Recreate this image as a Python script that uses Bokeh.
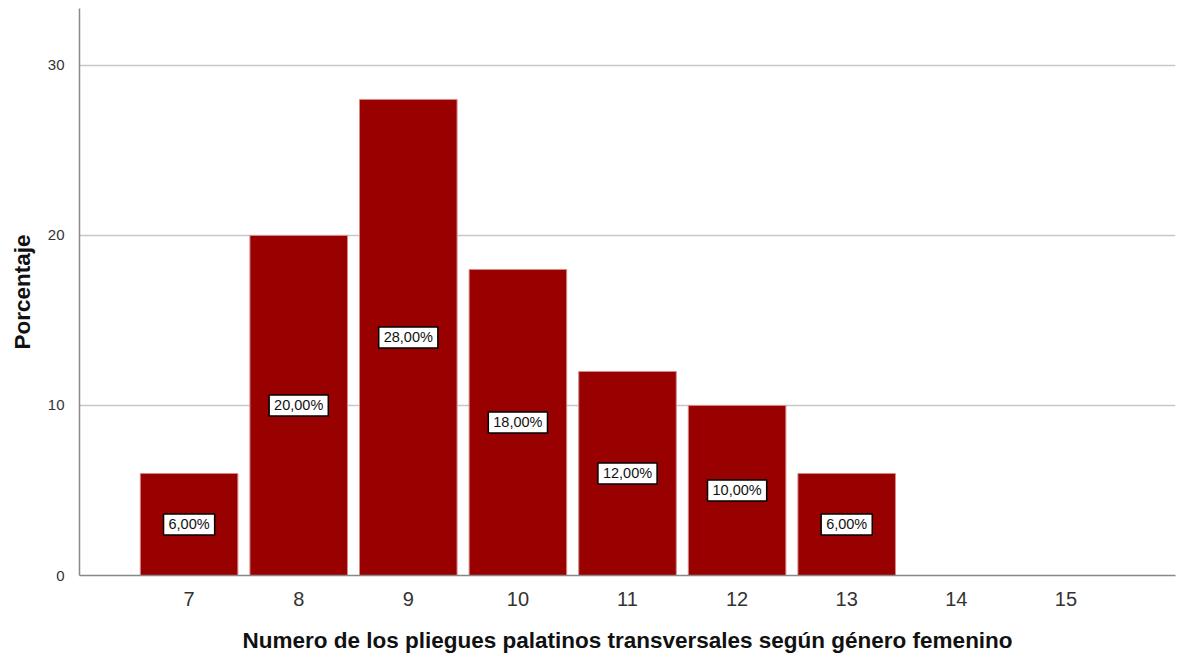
from bokeh.plotting import figure
from bokeh.models import ColumnDataSource, LabelSet, FixedTicker, Range1d
from bokeh.core.properties import value
from bokeh.embed import file_html
from bokeh.resources import INLINE

categories = [7, 8, 9, 10, 11, 12, 13, 14, 15]
values = [6, 20, 28, 18, 12, 10, 6, 0, 0]
y_ticks = [0, 10, 20, 30]

lab_x = [c for c, v in zip(categories, values) if v > 0]
lab_v = [v for v in values if v > 0]
lab_y = [v / 2 for v in lab_v]
lab_t = [f"{v:.2f}".replace(".", ",") + "%" for v in lab_v]

# approximate text widths (Liberation Sans em widths) for label boxes
FS = 14.5
def text_w(s):
    w = 0.0
    for ch in s:
        if ch.isdigit():
            w += 0.556
        elif ch == ",":
            w += 0.278
        elif ch == "%":
            w += 0.889
        else:
            w += 0.5
    return w * FS
box_w = [text_w(t) + 10 for t in lab_t]

src = ColumnDataSource(dict(x=lab_x, top=lab_v))
lsrc = ColumnDataSource(dict(x=lab_x, y=lab_y, t=lab_t, w=box_w))

p = figure(width=1184, height=660, output_backend="svg", toolbar_location=None,
           x_range=Range1d(6, 16), y_range=Range1d(0, 33.35),
           min_border_left=79, min_border_right=9, min_border_top=8, min_border_bottom=85)
p.outline_line_color = None
p.background_fill_color = "white"

p.vbar(x="x", top="top", width=0.89, source=src, fill_color="#990000",
       line_color="#d48a8a", line_width=1)

p.rect(x="x", y="y", width="w", height=21, width_units="screen", height_units="screen",
       source=lsrc, fill_color="white", line_color="black", line_width=1.5)

labels = LabelSet(x="x", y="y", text="t", source=lsrc, text_align="center",
                  text_baseline="middle", text_font=value("Liberation Sans"),
                  text_font_size=value(f"{FS}px"), text_color="#111111")
p.add_layout(labels)

p.xgrid.grid_line_color = None
p.ygrid.grid_line_color = "#c8c8c8"
p.ygrid.grid_line_width = 1.5
p.ygrid.ticker = FixedTicker(ticks=y_ticks)

p.xaxis.ticker = FixedTicker(ticks=categories)
p.yaxis.ticker = FixedTicker(ticks=y_ticks)

for ax in (p.xaxis, p.yaxis):
    ax.axis_line_color = "#888888"
    ax.axis_line_width = 1.5
    ax.major_tick_line_color = None
    ax.minor_tick_line_color = None
    ax.major_label_text_font = "Liberation Sans"
    ax.major_label_text_color = "#333333"
    ax.axis_label_text_font = "Liberation Sans"
    ax.axis_label_text_font_style = "bold"
    ax.axis_label_text_font_size = "22.5px"
    ax.axis_label_text_color = "#111111"

p.xaxis.major_label_text_font_size = "20px"
p.yaxis.major_label_text_font_size = "15px"
p.xaxis.major_label_standoff = 10
p.yaxis.major_label_standoff = 9
p.xaxis.axis_label = "Numero de los pliegues palatinos transversales según género femenino"
p.yaxis.axis_label = "Porcentaje"
p.xaxis.axis_label_standoff = 19
p.yaxis.axis_label_standoff = 10

open("out.html", "w").write(file_html(p, INLINE))
